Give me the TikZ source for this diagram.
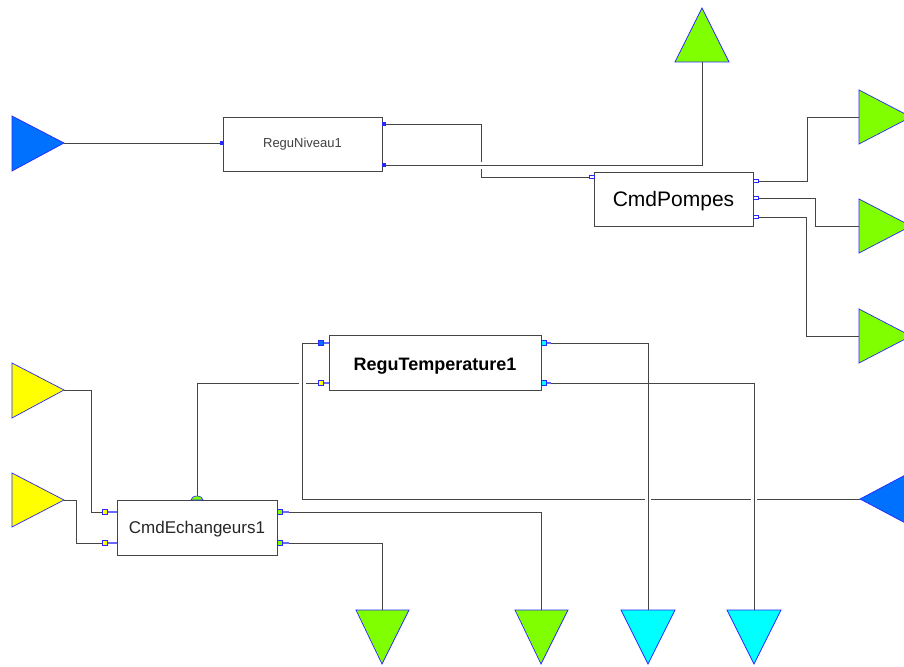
\documentclass[tikz,border=0pt]{standalone}
\usepackage{fontspec}
\setmainfont{Liberation Sans}
\definecolor{tblue}{HTML}{0070FF}
\definecolor{tgreen}{HTML}{80FF00}
\definecolor{tyellow}{HTML}{FFFF00}
\definecolor{tcyan}{HTML}{00FFFF}
\definecolor{edgeblue}{HTML}{2828FF}
\definecolor{wire}{HTML}{454545}
\begin{document}
\begin{tikzpicture}[x=1pt,y=-1pt,
  conn/.style={draw=wire, line width=0.9pt},
  blk/.style={draw=wire, line width=0.9pt, fill=white, rectangle, inner sep=0pt},
  lbl/.style={anchor=base, inner sep=0pt},
  tri/.style={draw=edgeblue, line width=0.7pt, line join=miter},
  gapw/.style={fill=white, draw=none},
  portsq/.style={draw=edgeblue, line width=0.6pt},
  pin/.style={draw=edgeblue!70!white, line width=1.6pt},
]
\useasboundingbox (0,0) rectangle (904,666);
\clip (0,0) rectangle (904,666);

% ---------- boxes ----------
\node[blk, minimum width=159pt, minimum height=54pt] (rn) at (302.5,144) {};
\node[lbl, text=black!75, font=\fontsize{13}{15}\selectfont] (rnT) at (302.5,147) {ReguNiveau1};
\node[blk, minimum width=159pt, minimum height=54pt] (cp) at (673.5,199) {};
\node[lbl, font=\fontsize{21}{24}\selectfont] (cpT) at (673.5,206) {CmdPompes};
\node[blk, minimum width=212pt, minimum height=55pt] (rt) at (435,362.5) {};
\node[lbl, font=\bfseries\fontsize{18}{21}\selectfont] (rtT) at (435,370) {ReguTemperature1};
\node[blk, minimum width=160pt, minimum height=55pt] (ce) at (197,527.5) {};
\node[lbl, text=black!85, font=\fontsize{17}{20}\selectfont] (ceT) at (197,533) {CmdEchangeurs1};

% ---------- ports ----------
\coordinate (rnIn) at (223,143);
\coordinate (rnOut1) at (382,124);
\coordinate (rnOut2) at (382,165);
\coordinate (cpIn) at (594,177);
\coordinate (cpOut1) at (753,181);
\coordinate (cpOut2) at (753,198);
\coordinate (cpOut3) at (753,217);
\coordinate (rtIn1) at (329,343);
\coordinate (rtIn2) at (329,383);
\coordinate (rtOut1) at (541,343);
\coordinate (rtOut2) at (541,383);
\coordinate (ceIn1) at (117,512);
\coordinate (ceIn2) at (117,543);
\coordinate (ceTop) at (197,500);
\coordinate (ceOut1) at (277,512);
\coordinate (ceOut2) at (277,543);

% ---------- triangles ----------
\coordinate (tL) at (64,143);
\coordinate (tTop) at (702,62);
\coordinate (tR1) at (859,117);
\coordinate (tR2) at (859,226);
\coordinate (tR3) at (859,336);
\coordinate (tY1) at (64,390);
\coordinate (tY2) at (64,500);
\coordinate (tRB) at (860,499);
\coordinate (tB1) at (382,610);
\coordinate (tB2) at (541,610);
\coordinate (tB3) at (648,610);
\coordinate (tB4) at (754,610);

\filldraw[tri, fill=tblue] (12,116) -- (tL) -- (12,171) -- cycle;
\filldraw[tri, fill=tgreen] (675,62) -- (702,8) -- (729,62) -- cycle;
\filldraw[tri, fill=tgreen] (859,90) -- (911,117) -- (859,144) -- cycle;
\filldraw[tri, fill=tgreen] (859,199) -- (911,226) -- (859,253) -- cycle;
\filldraw[tri, fill=tgreen] (859,309) -- (911,336) -- (859,363) -- cycle;
\filldraw[tri, fill=tyellow] (12,363) -- (tY1) -- (12,418) -- cycle;
\filldraw[tri, fill=tyellow] (12,473) -- (tY2) -- (12,527) -- cycle;
\filldraw[tri, fill=tblue] (911,472) -- (tRB) -- (911,526) -- cycle;
\filldraw[tri, fill=tgreen] (356,610) -- (409,610) -- (382,664) -- cycle;
\filldraw[tri, fill=tgreen] (515,610) -- (568,610) -- (541,664) -- cycle;
\filldraw[tri, fill=tcyan] (621,610) -- (675,610) -- (648,664) -- cycle;
\filldraw[tri, fill=tcyan] (727,610) -- (781,610) -- (754,664) -- cycle;

% ---------- connectors ----------
\draw[conn] (tL) -- (rnIn);
\draw[conn] (rnOut1) -- ++(99,0) |- (cpIn);
\fill[gapw] (478,161.5) rectangle (484,168.5);
\draw[conn] (rnOut2) -| (tTop);
\draw[conn] (cpOut1) -- ++(54,0) |- (tR1);
\draw[conn] (cpOut2) -- ++(62,0) |- (tR2);
\draw[conn] (cpOut3) -- ++(53,0) |- (tR3);
\draw[conn] (tY1) -- ++(27,0) |- (ceIn1);
\draw[conn] (tY2) -- ++(12,0) |- (ceIn2);
\draw[conn] (ceTop) |- (rtIn2);
\fill[gapw] (299,380) rectangle (305.5,386);
\draw[conn] (tRB) -- ++(-558,0) |- (rtIn1);
\fill[gapw] (644.5,496) rectangle (651,502);
\fill[gapw] (750.5,496) rectangle (757,502);
\draw[conn] (rtOut1) -| (tB3);
\draw[conn] (rtOut2) -| (tB4);
\draw[conn] (ceOut1) -| (tB2);
\draw[conn] (ceOut2) -| (tB1);

% ---------- port markers ----------
\fill[edgeblue] (220,141) rectangle (224,145);
\fill[edgeblue] (382,122) rectangle (386,126);
\fill[edgeblue] (382,163) rectangle (386,167);
\filldraw[portsq, fill=white] (589,175.5) rectangle (594,178.5);
\filldraw[portsq, fill=white] (753,179.5) rectangle (758,182.5);
\filldraw[portsq, fill=white] (753,196.5) rectangle (758,199.5);
\filldraw[portsq, fill=white] (753,215.5) rectangle (758,218.5);

\draw[pin] (322,343) -- (rtIn1);
\filldraw[portsq, fill=tblue] (318,340.5) rectangle (323,345.5);
\draw[pin] (322,383) -- (rtIn2);
\filldraw[portsq, fill=tyellow] (318,380.5) rectangle (323,385.5);
\draw[pin] (rtOut1) -- (551,343);
\filldraw[portsq, fill=tcyan] (541,340.5) rectangle (546,345.5);
\draw[pin] (rtOut2) -- (551,383);
\filldraw[portsq, fill=tcyan] (541,380.5) rectangle (546,385.5);

\draw[pin] (107,512) -- (ceIn1);
\filldraw[portsq, fill=tyellow] (102,509.5) rectangle (107,514.5);
\draw[pin] (107,543) -- (ceIn2);
\filldraw[portsq, fill=tyellow] (102,540.5) rectangle (107,545.5);
\draw[pin] (ceOut1) -- (289,512);
\filldraw[portsq, fill=tgreen] (277,509.5) rectangle (282,514.5);
\draw[pin] (ceOut2) -- (289,543);
\filldraw[portsq, fill=tgreen] (277,540.5) rectangle (282,545.5);
\filldraw[portsq, fill=tgreen] (191,500) arc[start angle=180, end angle=360, x radius=6, y radius=4] -- cycle;
\end{tikzpicture}
\end{document}
